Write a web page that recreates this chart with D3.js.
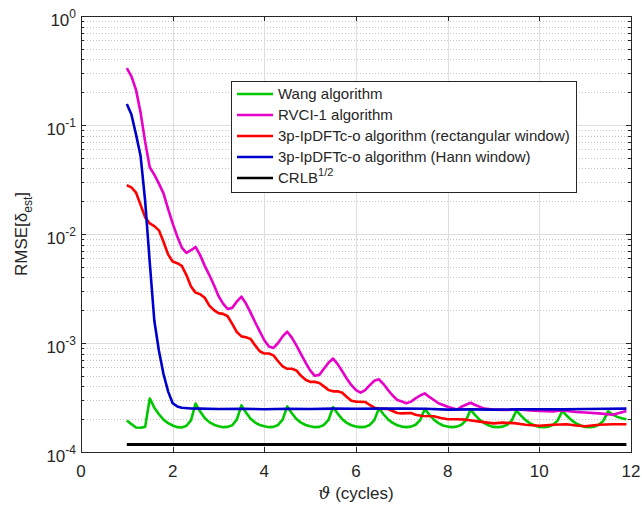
<!DOCTYPE html>
<html>
<head>
<meta charset="utf-8">
<script src="https://cdn.jsdelivr.net/npm/d3@7"></script>
<style>
  body { margin: 0; background: #fff; }
  text { font-family: Arial, "Liberation Sans", Helvetica, sans-serif; fill: #262626; }
</style>
</head>
<body>
<svg id="chart" width="642" height="509"></svg>
<script>
// ---- data ----
const thetaTicks = [0, 2, 4, 6, 8, 10, 12];
const decadeTicks = [1e-4, 1e-3, 1e-2, 1e-1, 1];
const decadeExp = ["-4", "-3", "-2", "-1", "0"];

const seriesNames = ["Wang algorithm", "RVCI-1 algorithm",
  "3p-IpDFTc-o algorithm (rectangular window)", "3p-IpDFTc-o algorithm (Hann window)", "CRLB"];
const seriesColors = ["#00c800", "#e600c8", "#ff0000", "#0000cc", "#000000"];

const wangData = [
  [1.0,1.95e-4],[1.1,1.80e-4],[1.2,1.68e-4],[1.3,1.67e-4],[1.4,1.70e-4],[1.5,3.10e-4],[1.6,2.55e-4],[1.7,2.22e-4],
  [1.8,1.98e-4],[1.9,1.84e-4],[2.0,1.75e-4],[2.1,1.69e-4],[2.2,1.68e-4],[2.3,1.74e-4],[2.4,1.95e-4],[2.5,2.78e-4],
  [2.6,2.35e-4],[2.7,2.05e-4],[2.8,1.88e-4],[2.9,1.78e-4],[3.0,1.72e-4],[3.1,1.69e-4],[3.2,1.70e-4],[3.3,1.76e-4],
  [3.4,1.98e-4],[3.5,2.68e-4],[3.6,2.30e-4],[3.7,2.02e-4],[3.8,1.86e-4],[3.9,1.77e-4],[4.0,1.72e-4],[4.1,1.69e-4],
  [4.2,1.70e-4],[4.3,1.77e-4],[4.4,1.98e-4],[4.5,2.62e-4],[4.6,2.27e-4],[4.7,2.01e-4],[4.8,1.86e-4],[4.9,1.77e-4],
  [5.0,1.72e-4],[5.1,1.69e-4],[5.2,1.70e-4],[5.3,1.77e-4],[5.4,1.97e-4],[5.5,2.58e-4],[5.6,2.25e-4],[5.7,2.00e-4],
  [5.8,1.85e-4],[5.9,1.76e-4],[6.0,1.71e-4],[6.1,1.69e-4],[6.2,1.70e-4],[6.3,1.77e-4],[6.4,1.96e-4],[6.5,2.52e-4],
  [6.6,2.22e-4],[6.7,1.99e-4],[6.8,1.85e-4],[6.9,1.76e-4],[7.0,1.71e-4],[7.1,1.69e-4],[7.2,1.71e-4],[7.3,1.78e-4],
  [7.4,1.96e-4],[7.5,2.48e-4],[7.6,2.20e-4],[7.7,1.98e-4],[7.8,1.84e-4],[7.9,1.75e-4],[8.0,1.71e-4],[8.1,1.69e-4],
  [8.2,1.71e-4],[8.3,1.78e-4],[8.4,1.95e-4],[8.5,2.44e-4],[8.6,2.18e-4],[8.7,1.97e-4],[8.8,1.84e-4],[8.9,1.75e-4],
  [9.0,1.70e-4],[9.1,1.69e-4],[9.2,1.71e-4],[9.3,1.78e-4],[9.4,1.95e-4],[9.5,2.40e-4],[9.6,2.16e-4],[9.7,1.96e-4],
  [9.8,1.83e-4],[9.9,1.75e-4],[10.0,1.70e-4],[10.1,1.69e-4],[10.2,1.71e-4],[10.3,1.78e-4],[10.4,1.94e-4],[10.5,2.38e-4],
  [10.6,2.15e-4],[10.7,1.96e-4],[10.8,1.83e-4],[10.9,1.75e-4],[11.0,1.70e-4],[11.1,1.69e-4],[11.2,1.71e-4],[11.3,1.78e-4],
  [11.4,1.94e-4],[11.5,2.36e-4],[11.6,2.20e-4],[11.7,2.10e-4],[11.8,2.04e-4],[11.9,2.00e-4]
];

const rvciData = [
  [1.0,0.333],[1.1,0.28],[1.2,0.21],[1.3,0.13],[1.4,0.07],[1.5,0.041],[1.6,0.035],[1.7,0.029],[1.8,0.0236],
  [1.9,0.017],[2.0,0.0125],[2.1,0.0095],[2.2,0.0075],[2.3,0.0067],[2.4,0.0071],[2.5,0.0076],[2.6,0.0064],
  [2.7,0.0051],[2.8,0.0042],[2.9,0.0034],[3.0,0.0027],[3.1,0.0023],[3.2,0.00205],[3.3,0.0021],[3.4,0.0024],
  [3.5,0.00266],[3.6,0.0023],[3.7,0.0019],[3.8,0.00155],[3.9,0.00128],[4.0,0.00106],[4.1,0.00093],[4.2,0.00090],
  [4.3,0.00100],[4.4,0.00115],[4.5,0.00127],[4.6,0.00112],[4.7,0.00095],[4.8,0.00079],[4.9,0.00066],[5.0,0.00056],
  [5.1,0.00050],[5.2,0.00051],[5.3,0.00058],[5.4,0.00066],[5.5,0.00072],[5.6,0.00064],[5.7,0.00055],[5.8,0.00047],
  [5.9,0.00041],[6.0,0.00037],[6.1,0.00035],[6.2,0.00037],[6.3,0.00041],[6.4,0.00045],[6.5,0.000465],[6.6,0.00042],
  [6.7,0.00037],[6.8,0.00033],[6.9,0.00030],[7.0,0.00029],[7.1,0.00028],[7.2,0.00029],[7.3,0.00031],[7.4,0.00033],
  [7.5,0.000345],[7.6,0.00032],[7.7,0.00030],[7.8,0.00028],[7.9,0.00027],[8.0,0.00026],[8.2,0.000245],[8.3,0.00026],
  [8.5,0.000283],[8.6,0.00027],[8.8,0.00025],[9.0,0.000245],[9.3,0.000243],[9.5,0.000247],[9.8,0.00024],[10.0,0.000238],
  [10.3,0.000236],[10.5,0.00024],[10.8,0.000233],[11.0,0.00023],[11.3,0.000226],[11.6,0.00022],[11.9,0.000238]
];

const rectData = [
  [1.0,0.0280],[1.1,0.0268],[1.2,0.0240],[1.3,0.0185],[1.4,0.0142],[1.5,0.0125],[1.6,0.0118],[1.7,0.0108],
  [1.8,0.0085],[1.9,0.0065],[2.0,0.0056],[2.1,0.0054],[2.2,0.0051],[2.3,0.0042],[2.4,0.0033],[2.5,0.0029],
  [2.6,0.0028],[2.7,0.0026],[2.8,0.0022],[2.9,0.0020],[3.0,0.00188],[3.1,0.00185],[3.2,0.00176],[3.3,0.00150],
  [3.4,0.00126],[3.5,0.00115],[3.6,0.00113],[3.7,0.00109],[3.8,0.00095],[3.9,0.00084],[4.0,0.00080],[4.1,0.00080],
  [4.2,0.00077],[4.3,0.00068],[4.4,0.00061],[4.5,0.00058],[4.6,0.00058],[4.7,0.00056],[4.8,0.00050],[4.9,0.00046],
  [5.0,0.00044],[5.1,0.00044],[5.2,0.00043],[5.3,0.00040],[5.4,0.00037],[5.5,0.00036],[5.6,0.00036],[5.7,0.00035],
  [5.8,0.00032],[5.9,0.000295],[6.0,0.00029],[6.2,0.000288],[6.3,0.00027],[6.4,0.000255],[6.5,0.00025],[6.7,0.000248],
  [6.8,0.000238],[6.9,0.000228],[7.0,0.000226],[7.2,0.000228],[7.3,0.00022],[7.45,0.000214],[7.7,0.000213],[7.85,0.000205],
  [8.0,0.000200],[8.2,0.000200],[8.4,0.000198],[8.7,0.00019],[9.0,0.000183],[9.2,0.000186],[9.45,0.000184],[9.7,0.000178],
  [10.0,0.000174],[10.3,0.000178],[10.6,0.00018],[10.8,0.000175],[11.0,0.000172],[11.3,0.000178],[11.6,0.00018],[11.9,0.00018]
];

const hannData = [
  [1.0,0.156],[1.1,0.125],[1.2,0.082],[1.3,0.052],[1.4,0.020],[1.5,0.0055],[1.6,0.0016],[1.7,0.00085],
  [1.8,0.00052],[1.9,0.00036],[2.0,0.00028],[2.1,0.000262],[2.2,0.000255],[2.4,0.000251],[2.6,0.00025],
  [3.0,0.000248],[3.5,0.000249],[4.0,0.000247],[4.5,0.000249],[5.0,0.000248],[5.5,0.00025],[6.0,0.000249],
  [6.5,0.000251],[7.0,0.00025],[7.5,0.000249],[8.0,0.000245],[8.5,0.000246],[9.0,0.000245],[9.5,0.000246],
  [10.0,0.000247],[10.5,0.000246],[11.0,0.000248],[11.5,0.000249],[11.9,0.00025]
];

const crlbData = [[1.0,1.17e-4],[2.0,1.17e-4],[4.0,1.17e-4],[6.0,1.17e-4],[8.0,1.17e-4],[10.0,1.17e-4],[11.9,1.17e-4]];

// ---- layout ----
const svg = d3.select("#chart");
const L = 81, R = 631, T = 16, B = 452;
const axisColor = "#262626";

const x = d3.scaleLinear().domain([0, 12]).range([L, R]);
const y = d3.scaleLog().domain([1e-4, 1]).range([B, T]);

// minor decade positions (2..9 x each decade)
let minorTicks = [];
decadeTicks.slice(0, -1).forEach(d => {
  for (let k = 2; k <= 9; k++) minorTicks.push(d * k);
});

const px = v => Math.round(v) + 0.5;

// grid
let grid = svg.append("g");
grid.selectAll(".ming").data(minorTicks).enter().append("line")
  .attr("x1", L).attr("x2", R)
  .attr("y1", d => px(y(d))).attr("y2", d => px(y(d)))
  .attr("stroke", "#c4c4c4").attr("stroke-width", 1)
  .attr("stroke-dasharray", "1,2");
grid.selectAll(".majy").data(decadeTicks.slice(1, -1)).enter().append("line")
  .attr("x1", L).attr("x2", R)
  .attr("y1", d => px(y(d))).attr("y2", d => px(y(d)))
  .attr("stroke", "#dedede").attr("stroke-width", 1);
grid.selectAll(".majx").data(thetaTicks.slice(1, -1)).enter().append("line")
  .attr("x1", d => px(x(d))).attr("x2", d => px(x(d)))
  .attr("y1", T).attr("y2", B)
  .attr("stroke", "#dedede").attr("stroke-width", 1);

// series
const line = d3.line().x(d => x(d[0])).y(d => y(d[1]));
const allSeries = [wangData, rvciData, rectData, hannData, crlbData];
let lines_group = svg.append("g");
allSeries.forEach((s, i) => {
  lines_group.append("path")
    .datum(s)
    .attr("d", line)
    .attr("fill", "none")
    .attr("stroke", seriesColors[i])
    .attr("stroke-width", i === 4 ? 3 : 2.6)
    .attr("stroke-linejoin", "round")
    .attr("stroke-linecap", "butt");
});

// axes box + inside ticks
let axes = svg.append("g").attr("stroke", axisColor).attr("stroke-width", 1);
axes.append("rect")
  .attr("x", L + 0.5).attr("y", T + 0.5)
  .attr("width", R - L).attr("height", B - T)
  .attr("fill", "none");
thetaTicks.forEach(t => {
  axes.append("line").attr("x1", px(x(t))).attr("x2", px(x(t))).attr("y1", B).attr("y2", B - 5);
  axes.append("line").attr("x1", px(x(t))).attr("x2", px(x(t))).attr("y1", T).attr("y2", T + 5);
});
decadeTicks.forEach(t => {
  axes.append("line").attr("x1", L).attr("x2", L + 5).attr("y1", px(y(t))).attr("y2", px(y(t)));
  axes.append("line").attr("x1", R).attr("x2", R - 5).attr("y1", px(y(t))).attr("y2", px(y(t)));
});
minorTicks.forEach(t => {
  axes.append("line").attr("x1", L).attr("x2", L + 3).attr("y1", px(y(t))).attr("y2", px(y(t)));
  axes.append("line").attr("x1", R).attr("x2", R - 3).attr("y1", px(y(t))).attr("y2", px(y(t)));
});

// tick labels
svg.selectAll(".xtl").data(thetaTicks).enter().append("text")
  .attr("x", d => x(d)).attr("y", 477)
  .attr("text-anchor", "middle")
  .style("font-size", "17px")
  .text(d => d);

decadeTicks.forEach((t, i) => {
  let lbl = svg.append("text")
    .attr("x", 76).attr("y", y(t) + 10)
    .attr("text-anchor", "end")
    .style("font-size", "17px");
  lbl.append("tspan").text("10");
  lbl.append("tspan").attr("dy", -8).style("font-size", "12px").text(decadeExp[i]);
});

// axis titles
let xl = svg.append("text")
  .attr("x", 356).attr("y", 499)
  .attr("text-anchor", "middle")
  .style("font-size", "17px");
xl.append("tspan").style("font-family", "'DejaVu Serif', serif").style("font-style", "italic").text("\u03D1");
xl.append("tspan").text(" (cycles)");

let yl = svg.append("text")
  .attr("transform", "translate(27,234) rotate(-90)")
  .attr("text-anchor", "middle")
  .style("font-size", "17px");
yl.append("tspan").text("RMSE[\u03B4");
yl.append("tspan").attr("dy", 5).style("font-size", "12px").text("est");
yl.append("tspan").attr("dy", -5).text("]");

// legend
let legend = svg.append("g");
let box = legend.append("rect")
  .attr("x", 231.5).attr("y", 81.5)
  .attr("height", 111)
  .attr("fill", "#fff")
  .attr("stroke", axisColor).attr("stroke-width", 1);
const rowY = [94, 115, 136, 157, 178];
let maxW = 0;
seriesNames.forEach((name, i) => {
  legend.append("line")
    .attr("x1", 237).attr("x2", 273)
    .attr("y1", rowY[i]).attr("y2", rowY[i])
    .attr("stroke", seriesColors[i]).attr("stroke-width", 2.6);
  let t = legend.append("text")
    .attr("x", 278).attr("y", rowY[i] + 5)
    .style("font-size", "15px");
  t.append("tspan").text(name);
  if (i === 4) {
    t.append("tspan").attr("dy", -7).style("font-size", "11px").text("1/2");
  }
  maxW = Math.max(maxW, t.node().getComputedTextLength());
});
box.attr("width", Math.round(278 + maxW + 6 - 231));
</script>
</body>
</html>
